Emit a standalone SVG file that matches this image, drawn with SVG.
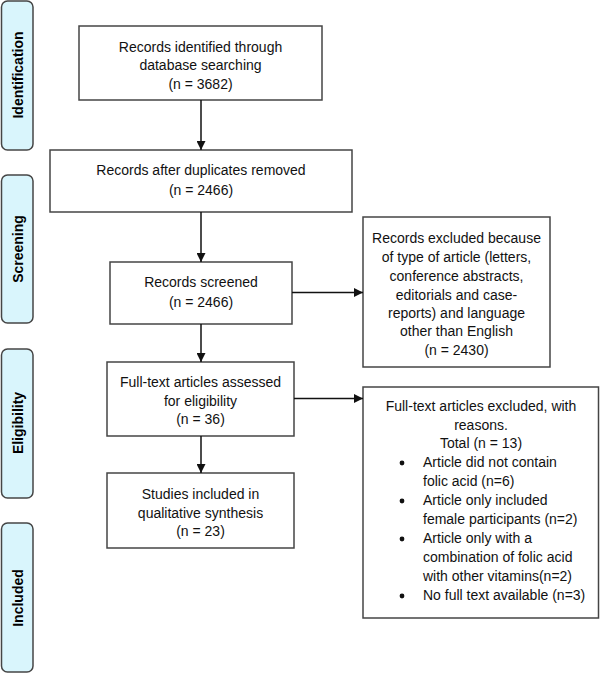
<svg xmlns="http://www.w3.org/2000/svg" width="600" height="674" viewBox="0 0 600 674">
<defs>
<style>
.stage rect{fill:#d9f5fc;stroke:#454545;stroke-width:1.5}
.stage text{font-family:"Liberation Sans",Arial,sans-serif;font-weight:bold;font-size:14px;fill:#000;text-anchor:middle}
.node rect{fill:#fff;stroke:#454545;stroke-width:1.5}
.node text{font-family:"Liberation Sans",Arial,sans-serif;font-size:14px;fill:#111;text-anchor:middle}
.node text.l{text-anchor:start}
.conn line{stroke:#111;stroke-width:1.5;marker-end:url(#ah)}
</style>
<marker id="ah" viewBox="0 0 10 10" refX="10" refY="5" markerWidth="6" markerHeight="6" orient="auto" markerUnits="strokeWidth">
<path d="M0,0 L10,5 L0,10 z" fill="#111"/>
</marker>
</defs>
<rect width="600" height="674" fill="#fff"/>
<g id="stage-identification" class="stage"><rect x="1.5" y="1" width="31.5" height="149" rx="6"/><text transform="translate(23,75) rotate(-90)">Identification</text></g>
<g id="stage-screening" class="stage"><rect x="1.5" y="175" width="31.5" height="148" rx="6"/><text transform="translate(23,249) rotate(-90)">Screening</text></g>
<g id="stage-eligibility" class="stage"><rect x="1.5" y="349" width="31.5" height="149" rx="6"/><text transform="translate(23,423) rotate(-90)">Eligibility</text></g>
<g id="stage-included" class="stage"><rect x="1.5" y="523" width="31.5" height="149" rx="6"/><text transform="translate(23,598) rotate(-90)">Included</text></g>

<g id="identified" class="node"><rect x="79" y="26" width="243" height="74"/>
<text x="200.5" y="52">Records identified through</text><text x="200.5" y="70">database searching</text><text x="200.5" y="89">(n = 3682)</text></g>
<g id="dedup" class="node"><rect x="50" y="150" width="302" height="62"/>
<text x="201" y="175">Records after duplicates removed</text><text x="201" y="195">(n = 2466)</text></g>
<g id="screened" class="node"><rect x="110" y="262" width="182" height="62"/>
<text x="201" y="287">Records screened</text><text x="201" y="307">(n = 2466)</text></g>
<g id="fulltext" class="node"><rect x="107" y="362" width="187" height="74"/>
<text x="200.5" y="387">Full-text articles assessed</text><text x="200.5" y="406">for eligibility</text><text x="200.5" y="424">(n = 36)</text></g>
<g id="included" class="node"><rect x="107" y="473" width="187" height="75"/>
<text x="200.5" y="499">Studies included in</text><text x="200.5" y="518">qualitative synthesis</text><text x="200.5" y="536">(n = 23)</text></g>
<g id="excluded1" class="node"><rect x="363" y="217" width="187" height="150"/>
<text x="456.5" y="243">Records excluded because</text><text x="456.5" y="262">of type of article (letters,</text><text x="456.5" y="281">conference abstracts,</text><text x="456.5" y="300">editorials and case-</text><text x="456.5" y="318">reports) and language</text><text x="456.5" y="336">other than English</text><text x="456.5" y="355">(n = 2430)</text></g>
<g id="excluded2" class="node"><rect x="363" y="387" width="235.5" height="231"/>
<text x="481" y="411">Full-text articles excluded, with</text><text x="481" y="430">reasons.</text><text x="481" y="448">Total (n = 13)</text>
<circle cx="402" cy="463" r="2.4" fill="#111"/><circle cx="402" cy="501" r="2.4" fill="#111"/><circle cx="402" cy="539" r="2.4" fill="#111"/><circle cx="402" cy="596" r="2.4" fill="#111"/>
<text class="l" x="423" y="467">Article did not contain</text><text class="l" x="423" y="486">folic acid (n=6)</text>
<text class="l" x="423" y="505">Article only included</text><text class="l" x="423" y="524">female participants (n=2)</text>
<text class="l" x="423" y="543">Article only with a</text><text class="l" x="423" y="562">combination of folic acid</text><text class="l" x="423" y="581">with other vitamins(n=2)</text>
<text class="l" x="423" y="600">No full text available (n=3)</text></g>

<g id="connectors" class="conn">
<line x1="201" y1="100" x2="201" y2="150"/>
<line x1="201" y1="212" x2="201" y2="262"/>
<line x1="201" y1="324" x2="201" y2="362"/>
<line x1="201" y1="436" x2="201" y2="473"/>
<line x1="292" y1="292.5" x2="363" y2="292.5"/>
<line x1="294" y1="398.5" x2="363" y2="398.5"/>
</g>
</svg>
